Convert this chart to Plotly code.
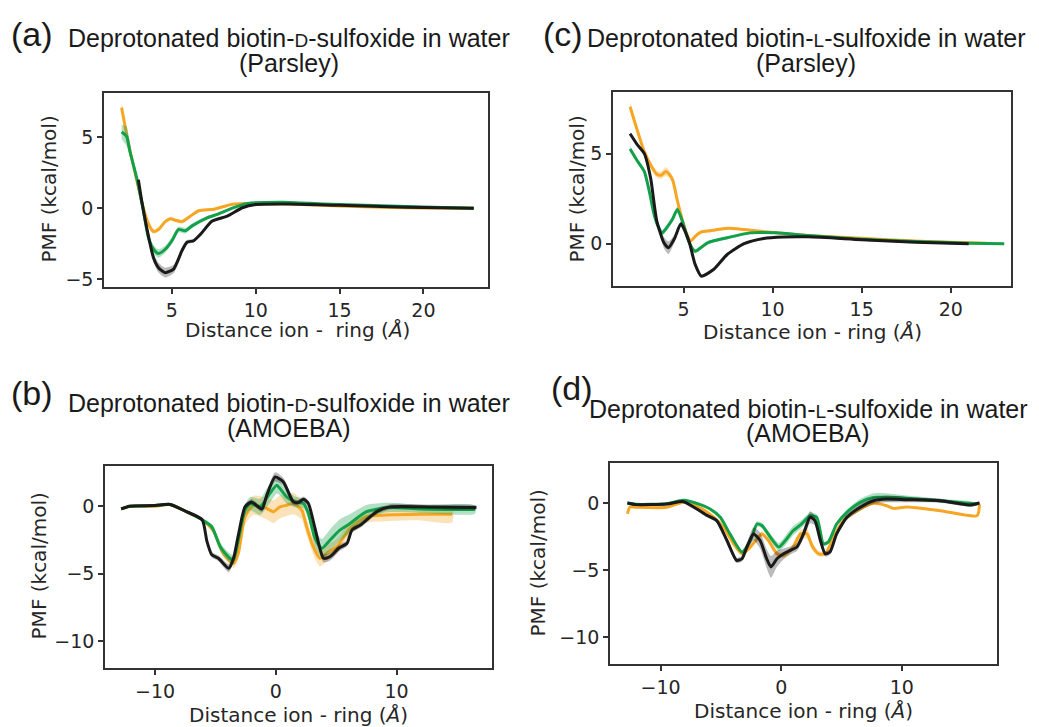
import plotly.graph_objects as go

# ---------------- DATA ----------------
# Panel (a): biotin-D-sulfoxide, Parsley
A_ORANGE_X = [2.0, 2.4, 2.9, 3.3, 3.6, 3.9, 4.2, 4.6, 4.9, 5.2, 5.6, 6.0, 6.6, 7.5, 8.6, 10.0, 12.0, 15.0, 18.0, 20.0, 23.0]
A_ORANGE_Y = [7.1, 4.6, 2.0, 0.0, -1.1, -1.65, -1.5, -0.95, -0.75, -0.85, -0.95, -0.65, -0.18, -0.08, 0.28, 0.33, 0.3, 0.15, 0.05, 0.02, 0.0]
A_ORANGE_E = [0.4, 0.25, 0.15, 0.12, 0.12, 0.15, 0.15, 0.12, 0.12, 0.12, 0.12, 0.1, 0.08, 0.08, 0.06, 0.05, 0.05, 0.04, 0.04, 0.03, 0.03]

A_GREEN_X = [2.0, 2.3, 2.5, 2.9, 3.3, 3.6, 3.9, 4.2, 4.6, 5.0, 5.4, 5.8, 6.2, 7.1, 7.7, 8.6, 9.5, 11.6, 14.0, 17.0, 20.0, 23.0]
A_GREEN_Y = [5.38, 5.07, 4.0, 2.14, -0.2, -2.1, -2.9, -3.2, -2.9, -2.3, -1.5, -1.6, -1.25, -0.68, -0.44, 0.0, 0.33, 0.42, 0.3, 0.18, 0.08, 0.0]
A_GREEN_E = [0.5, 0.7, 0.4, 0.25, 0.2, 0.25, 0.3, 0.3, 0.25, 0.25, 0.2, 0.2, 0.15, 0.12, 0.1, 0.08, 0.06, 0.06, 0.05, 0.05, 0.04, 0.04]

A_BLACK_X = [3.0, 3.2, 3.5, 3.9, 4.2, 4.6, 5.1, 5.6, 5.9, 6.3, 6.7, 7.4, 8.3, 9.2, 10.0, 12.0, 15.0, 18.0, 20.0, 23.0]
A_BLACK_Y = [2.0, 0.5, -1.4, -3.5, -4.2, -4.55, -4.3, -3.0, -2.4, -2.3, -1.85, -0.91, -0.56, 0.03, 0.26, 0.3, 0.2, 0.1, 0.05, 0.0]
A_BLACK_E = [0.1, 0.15, 0.2, 0.3, 0.35, 0.35, 0.3, 0.25, 0.15, 0.12, 0.1, 0.08, 0.06, 0.05, 0.05, 0.04, 0.04, 0.03, 0.03, 0.03]

# Panel (c): biotin-L-sulfoxide, Parsley
C_ORANGE_X = [2.0, 2.4, 2.8, 3.2, 3.5, 3.75, 4.0, 4.2, 4.4, 4.65, 4.95, 5.2, 5.4, 5.7, 6.0, 6.5, 7.5, 8.4, 10.2, 12.0, 15.0, 18.0, 20.0, 22.0]
C_ORANGE_Y = [7.6, 6.3, 5.1, 4.3, 3.85, 3.8, 4.0, 3.85, 3.5, 2.4, 1.25, 0.5, 0.15, 0.45, 0.65, 0.72, 0.85, 0.78, 0.6, 0.45, 0.3, 0.15, 0.08, 0.02]
C_ORANGE_E = [0.25, 0.15, 0.12, 0.15, 0.2, 0.2, 0.25, 0.2, 0.15, 0.12, 0.1, 0.1, 0.1, 0.1, 0.08, 0.08, 0.08, 0.06, 0.05, 0.05, 0.04, 0.04, 0.03, 0.03]

C_GREEN_X = [2.0, 2.4, 2.8, 3.1, 3.35, 3.6, 3.8, 4.1, 4.4, 4.65, 4.95, 5.3, 5.65, 6.0, 6.35, 7.45, 8.75, 10.2, 12.0, 15.0, 18.0, 21.0, 23.0]
C_GREEN_Y = [5.25, 4.6, 4.0, 2.8, 1.6, 0.9, 0.6, 0.95, 1.4, 1.9, 1.2, 0.1, -0.42, -0.2, 0.05, 0.33, 0.6, 0.6, 0.45, 0.25, 0.12, 0.03, 0.0]
C_GREEN_E = [0.15, 0.12, 0.12, 0.12, 0.15, 0.15, 0.15, 0.15, 0.15, 0.15, 0.12, 0.12, 0.12, 0.1, 0.08, 0.08, 0.06, 0.05, 0.05, 0.04, 0.04, 0.03, 0.03]

C_BLACK_X = [2.0, 2.4, 2.8, 3.15, 3.5, 3.9, 4.15, 4.5, 4.85, 5.3, 5.65, 6.0, 6.7, 7.45, 8.4, 9.5, 10.6, 12.0, 15.0, 18.0, 21.0]
C_BLACK_Y = [6.1, 5.5, 5.0, 3.65, 1.25, 0.05, -0.22, 0.3, 1.1, 0.15, -1.15, -1.8, -1.42, -0.6, 0.0, 0.29, 0.37, 0.38, 0.22, 0.08, 0.0]
C_BLACK_E = [0.1, 0.1, 0.1, 0.12, 0.15, 0.3, 0.35, 0.2, 0.12, 0.1, 0.08, 0.08, 0.06, 0.06, 0.05, 0.05, 0.04, 0.04, 0.04, 0.03, 0.03]

# Panel (b): biotin-D-sulfoxide, AMOEBA
B_ORANGE_X = [-12.8, -12.1, -10.0, -8.75, -7.4, -6.1, -5.2, -4.35, -3.5, -3.1, -2.55, -1.85, -0.75, -0.2, 0.35, 0.9, 1.45, 2.15, 2.55, 3.1, 3.65, 4.2, 5.05, 6.15, 7.5, 9.2, 12.0, 14.6]
B_ORANGE_Y = [-0.2, 0.0, 0.0, 0.13, -0.4, -1.0, -1.77, -3.49, -4.23, -3.49, -0.78, 0.07, -0.17, -0.41, -0.05, 0.07, 0.2, -0.29, -1.52, -3.0, -3.86, -3.49, -3.0, -1.64, -0.78, -0.66, -0.6, -0.6]
B_ORANGE_E = [0.1, 0.08, 0.08, 0.08, 0.1, 0.12, 0.2, 0.3, 0.35, 0.4, 0.6, 0.7, 0.8, 0.85, 0.85, 0.8, 0.8, 0.7, 0.6, 0.6, 0.6, 0.6, 0.55, 0.5, 0.45, 0.45, 0.45, 0.6]

B_GREEN_X = [-12.8, -12.1, -10.0, -8.75, -7.4, -6.1, -5.3, -4.6, -3.8, -3.5, -3.1, -2.55, -2.1, -1.3, -0.6, 0.08, 0.36, 0.9, 1.6, 2.3, 2.7, 3.25, 3.8, 4.5, 5.3, 6.15, 7.5, 9.2, 12.0, 16.5]
B_GREEN_Y = [-0.2, 0.0, 0.05, 0.13, -0.4, -1.0, -1.52, -3.0, -3.86, -3.98, -2.5, -0.29, 0.2, -0.05, 0.81, 1.55, 1.3, 0.69, 0.32, 0.2, -0.54, -2.38, -3.12, -2.5, -1.77, -1.28, -0.41, -0.1, -0.2, -0.25]
B_GREEN_E = [0.1, 0.08, 0.08, 0.08, 0.1, 0.12, 0.2, 0.3, 0.35, 0.35, 0.3, 0.4, 0.5, 0.6, 0.7, 0.6, 0.5, 0.5, 0.4, 0.35, 0.4, 0.6, 0.7, 0.8, 0.8, 0.7, 0.5, 0.35, 0.3, 0.3]

B_BLACK_X = [-12.8, -12.1, -10.0, -8.75, -7.4, -6.1, -5.7, -5.3, -4.75, -3.9, -3.5, -3.1, -2.55, -2.0, -1.15, -0.75, -0.05, 0.63, 1.45, 1.85, 2.3, 2.7, 3.25, 3.95, 4.5, 5.2, 5.9, 6.3, 7.0, 8.35, 9.45, 12.8, 16.6]
B_BLACK_Y = [-0.2, 0.0, 0.05, 0.13, -0.4, -1.0, -2.6, -3.6, -3.86, -4.6, -3.86, -2.14, -0.05, 0.32, -0.22, 0.81, 2.17, 1.8, 0.32, 0.27, 0.52, 0.2, -1.64, -3.86, -3.73, -3.12, -2.75, -1.77, -1.4, -0.41, -0.05, -0.05, -0.1]
B_BLACK_E = [0.1, 0.08, 0.08, 0.08, 0.1, 0.12, 0.15, 0.2, 0.2, 0.3, 0.25, 0.2, 0.2, 0.2, 0.2, 0.25, 0.35, 0.3, 0.25, 0.2, 0.2, 0.2, 0.25, 0.3, 0.3, 0.25, 0.2, 0.2, 0.2, 0.2, 0.2, 0.15, 0.15]

# Panel (d): biotin-L-sulfoxide, AMOEBA
D_ORANGE_X = [-12.75, -12.55, -12.0, -9.5, -8.1, -6.7, -5.6, -4.8, -3.95, -3.25, -2.7, -2.0, -1.6, -1.05, -0.35, 0.2, 0.9, 1.6, 2.15, 2.55, 3.1, 3.65, 4.35, 5.15, 6.55, 7.65, 8.75, 9.3, 10.4, 13.2, 16.25, 16.45]
D_ORANGE_Y = [-0.8, -0.3, -0.32, -0.32, 0.05, -0.37, -1.06, -1.8, -3.04, -3.78, -3.41, -2.67, -2.3, -2.79, -3.78, -3.9, -3.41, -2.3, -2.3, -3.16, -3.78, -3.78, -2.54, -1.31, -0.44, -0.02, -0.2, -0.4, -0.3, -0.57, -0.94, -0.1]
D_ORANGE_E = [0.05, 0.08, 0.08, 0.08, 0.08, 0.1, 0.1, 0.12, 0.15, 0.15, 0.15, 0.15, 0.2, 0.2, 0.2, 0.2, 0.2, 0.3, 0.4, 0.3, 0.2, 0.15, 0.15, 0.12, 0.1, 0.1, 0.08, 0.08, 0.08, 0.08, 0.08, 0.05]

D_GREEN_X = [-12.75, -12.0, -9.5, -8.1, -6.7, -5.9, -5.05, -4.25, -3.25, -2.55, -2.0, -1.6, -0.9, -0.2, 0.35, 1.0, 1.7, 2.4, 2.95, 3.5, 3.9, 4.6, 5.45, 6.55, 7.65, 8.75, 10.4, 13.2, 16.25]
D_GREEN_Y = [0.0, -0.1, -0.05, 0.2, -0.12, -0.44, -1.06, -2.3, -3.65, -2.79, -1.56, -1.68, -2.54, -3.28, -2.79, -2.05, -1.56, -0.94, -1.06, -3.04, -2.92, -1.56, -0.69, 0.05, 0.42, 0.42, 0.35, 0.17, -0.07]
D_GREEN_E = [0.08, 0.08, 0.08, 0.08, 0.08, 0.1, 0.1, 0.12, 0.15, 0.2, 0.2, 0.2, 0.25, 0.3, 0.35, 0.35, 0.3, 0.25, 0.2, 0.15, 0.15, 0.15, 0.2, 0.25, 0.3, 0.3, 0.2, 0.15, 0.1]

D_BLACK_X = [-12.75, -12.0, -9.5, -8.1, -7.0, -6.2, -5.35, -4.5, -3.7, -3.25, -2.85, -2.3, -1.75, -1.2, -0.85, -0.35, 0.2, 0.75, 1.3, 1.85, 2.4, 2.8, 3.25, 3.65, 4.05, 4.6, 5.45, 6.55, 7.65, 8.75, 10.4, 13.2, 15.7, 16.45]
D_BLACK_Y = [0.0, -0.12, -0.07, 0.1, -0.44, -0.9, -1.31, -2.79, -4.27, -4.15, -3.28, -2.3, -2.79, -4.15, -4.76, -4.15, -3.78, -3.53, -3.28, -2.3, -1.06, -1.31, -2.79, -3.78, -3.65, -2.3, -1.06, -0.32, 0.17, 0.3, 0.25, 0.17, -0.15, 0.0]
D_BLACK_E = [0.1, 0.08, 0.08, 0.08, 0.1, 0.12, 0.15, 0.2, 0.2, 0.2, 0.3, 0.5, 0.6, 0.7, 0.8, 0.6, 0.4, 0.3, 0.3, 0.35, 0.45, 0.35, 0.25, 0.2, 0.2, 0.2, 0.2, 0.25, 0.25, 0.25, 0.2, 0.15, 0.12, 0.1]

X_TICKS_PARSLEY = [5, 10, 15, 20]
X_TICKS_AMOEBA = [-10, 0, 10]
Y_TICKS_A = [-5, 0, 5]
Y_TICKS_C = [0, 5]
Y_TICKS_AMOEBA = [-10, -5, 0]

TITLES = {
    "a": ("(a)", "Deprotonated biotin-<span style='font-size:19px'>D</span>-sulfoxide in water", "(Parsley)"),
    "c": ("(c)", "Deprotonated biotin-<span style='font-size:19px'>L</span>-sulfoxide in water", "(Parsley)"),
    "b": ("(b)", "Deprotonated biotin-<span style='font-size:19px'>D</span>-sulfoxide in water", "(AMOEBA)"),
    "d": ("(d)", "Deprotonated biotin-<span style='font-size:19px'>L</span>-sulfoxide in water", "(AMOEBA)"),
}
Y_LABEL = "PMF (kcal/mol)"
X_LABEL_A = "Distance ion -  ring (<i>Å</i>)"
X_LABEL = "Distance ion - ring (<i>Å</i>)"

# ---------------- STYLE ----------------
W, H = 1039, 727
COL_OR = "#F7A623"
COL_GR = "#12A04B"
COL_BK = "#1A1A1A"
BAND_OR = "rgba(247,166,35,0.32)"
BAND_GR = "rgba(18,160,75,0.32)"
BAND_BK = "rgba(26,26,26,0.30)"
TXT = "#1a1a1a"
TICKFONT = dict(family="DejaVu Sans", size=19, color="#262626")
LABELFONT = dict(family="DejaVu Sans", size=20, color="#262626")

fig = go.Figure()


def add_series(xs, ys, es, color, band, ax):
    xa, ya = ax
    up = [y + e for y, e in zip(ys, es)]
    lo = [y - e for y, e in zip(ys, es)]
    fig.add_trace(go.Scatter(x=list(xs) + list(xs)[::-1], y=up + lo[::-1], fill="toself",
                             fillcolor=band, line=dict(width=0, shape="spline", smoothing=0.6),
                             mode="lines", hoverinfo="skip", showlegend=False, xaxis=xa, yaxis=ya))
    fig.add_trace(go.Scatter(x=xs, y=ys, mode="lines",
                             line=dict(color=color, width=3, shape="spline", smoothing=0.6),
                             showlegend=False, xaxis=xa, yaxis=ya))


panels = [
    (("x", "y"), [(A_ORANGE_X, A_ORANGE_Y, A_ORANGE_E), (A_GREEN_X, A_GREEN_Y, A_GREEN_E), (A_BLACK_X, A_BLACK_Y, A_BLACK_E)]),
    (("x2", "y2"), [(C_ORANGE_X, C_ORANGE_Y, C_ORANGE_E), (C_GREEN_X, C_GREEN_Y, C_GREEN_E), (C_BLACK_X, C_BLACK_Y, C_BLACK_E)]),
    (("x3", "y3"), [(B_ORANGE_X, B_ORANGE_Y, B_ORANGE_E), (B_GREEN_X, B_GREEN_Y, B_GREEN_E), (B_BLACK_X, B_BLACK_Y, B_BLACK_E)]),
    (("x4", "y4"), [(D_ORANGE_X, D_ORANGE_Y, D_ORANGE_E), (D_GREEN_X, D_GREEN_Y, D_GREEN_E), (D_BLACK_X, D_BLACK_Y, D_BLACK_E)]),
]
for ax, series in panels:
    for (xs, ys, es), col, band in zip(series, [COL_OR, COL_GR, COL_BK], [BAND_OR, BAND_GR, BAND_BK]):
        add_series(xs, ys, es, col, band, ax)


def px_x(p):
    return p / W


def px_y(p):
    return 1 - p / H


def axis(domain, rng, ticks, anchor):
    return dict(domain=domain, range=rng, tickvals=ticks, anchor=anchor,
                showline=True, mirror=True, linecolor="#333333", linewidth=1.5,
                ticks="outside", ticklen=5, tickwidth=1.5, tickcolor="#333333",
                showgrid=False, zeroline=False, tickfont=TICKFONT)


# plot-area boxes in pixels (left, right, top, bottom)
BOX_A = (104, 488, 93, 288)
BOX_C = (613, 1011, 92, 287)
BOX_B = (105, 492, 467, 670)
BOX_D = (610, 997, 464, 666)

def dom(box):
    l, r, t, b = box
    return [px_x(l), px_x(r)], [px_y(b), px_y(t)]

dxa, dya = dom(BOX_A)
dxc, dyc = dom(BOX_C)
dxb, dyb = dom(BOX_B)
dxd, dyd = dom(BOX_D)

fig.update_layout(
    width=W, height=H, margin=dict(l=0, r=0, t=0, b=0),
    paper_bgcolor="white", plot_bgcolor="white",
    xaxis=axis(dxa, [0.95, 23.85], X_TICKS_PARSLEY, "y"),
    yaxis=axis(dya, [-5.58, 8.15], Y_TICKS_A, "x"),
    xaxis2=axis(dxc, [1.04, 23.38], X_TICKS_PARSLEY, "y2"),
    yaxis2=axis(dyc, [-2.36, 8.43], Y_TICKS_C, "x2"),
    xaxis3=axis(dxb, [-14.14, 17.9], X_TICKS_AMOEBA, "y3"),
    yaxis3=axis(dyb, [-12, 3], Y_TICKS_AMOEBA, "x3"),
    xaxis4=axis(dxd, [-14.2, 17.9], X_TICKS_AMOEBA, "y4"),
    yaxis4=axis(dyd, [-12, 3], Y_TICKS_AMOEBA, "x4"),
)

ann = []

def text(x, y, s, font, angle=0):
    ann.append(dict(x=px_x(x), y=px_y(y), xref="paper", yref="paper", text=s, showarrow=False,
                    xanchor="center", yanchor="middle", font=font, textangle=angle))

LET = dict(family="Liberation Sans", size=34, color=TXT)
TIT = dict(family="Liberation Sans", size=25, color=TXT)

# titles
for key, (lx, ly, tx, ty1, ty2) in {
    "a": (32, 34, 289, 38, 63),
    "c": (563, 34, 806, 38, 63),
    "b": (32, 394, 289, 404, 429),
    "d": (572, 389, 808, 410, 434),
}.items():
    letter, l1, l2 = TITLES[key]
    text(lx, ly, letter, LET)
    text(tx, ty1, l1, TIT)
    text(tx, ty2, l2, TIT)

# axis labels
text(49, 190, Y_LABEL, LABELFONT, -90)
text(577, 190, Y_LABEL, LABELFONT, -90)
text(39, 568, Y_LABEL, LABELFONT, -90)
text(538, 565, Y_LABEL, LABELFONT, -90)
text(297, 331, X_LABEL_A, LABELFONT)
text(812, 333, X_LABEL, LABELFONT)
text(298, 717, X_LABEL, LABELFONT)
text(803, 713, X_LABEL, LABELFONT)

fig.update_layout(annotations=ann)
fig.write_html("out.html", config={"displayModeBar": False},
               post_script="document.body.style.margin='0';document.body.style.overflow='hidden';")
